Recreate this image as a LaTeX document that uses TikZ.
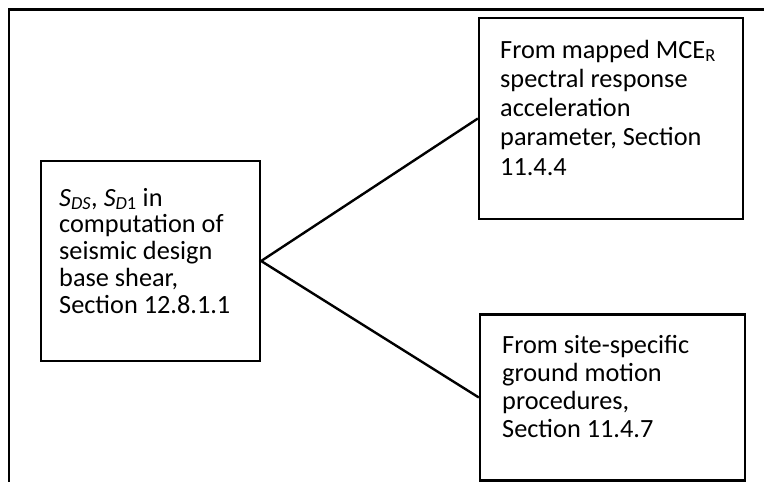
\documentclass[tikz,border=0pt]{standalone}
\usepackage{fontspec}
\setmainfont{Carlito}
\begin{document}
\begin{tikzpicture}[x=1pt,y=-1pt,
  box/.style={draw=black, line width=2.3pt, inner sep=0pt},
  frameline/.style={draw=black, line width=2.6pt},
  link/.style={draw=black, line width=2.4pt},
  txt/.style={anchor=base west, inner sep=0pt, font=\fontsize{26.3}{28}\selectfont}]
\useasboundingbox (0,0) rectangle (764,482);
% outer frame (top and left sides)
\coordinate (fTR) at (764,9.5);
\coordinate (fTL) at (9,9.5);
\coordinate (fBL) at (9,482);
\draw[frameline] (fTR) -- (fTL) -- (fBL);
% boxes
\node[box, minimum width=219pt, minimum height=200pt] (L) at (150.5,261) {};
\node[box, minimum width=264pt, minimum height=201pt] (U) at (611,118.5) {};
\node[box, minimum width=265pt, minimum height=166pt] (D) at (612.5,397.5) {};
% texts
\node[txt] (Lt) at (59,206) {\vtop{\baselineskip=26.8pt
  \hbox{\textit{S}\textsubscript{\textit{DS}}, \textit{S}\textsubscript{\textit{D}1} in}
  \hbox{computation of}
  \hbox{seismic design}
  \hbox{base shear,}
  \hbox{Section 12.8.1.1}}};
\node[txt] (Ut) at (500,58) {\vtop{\baselineskip=29.3pt
  \hbox{From mapped MCE\textsubscript{R}}
  \hbox{spectral response}
  \hbox{acceleration}
  \hbox{parameter, Section}
  \hbox{11.4.4}}};
\node[txt] (Dt) at (502,353) {\vtop{\baselineskip=28pt
  \hbox{From site-specific}
  \hbox{ground motion}
  \hbox{procedures,}
  \hbox{Section 11.4.7}}};
% connectors
\draw[link] (U.west) -- (L.east) -- (D.west);
\end{tikzpicture}
\end{document}
